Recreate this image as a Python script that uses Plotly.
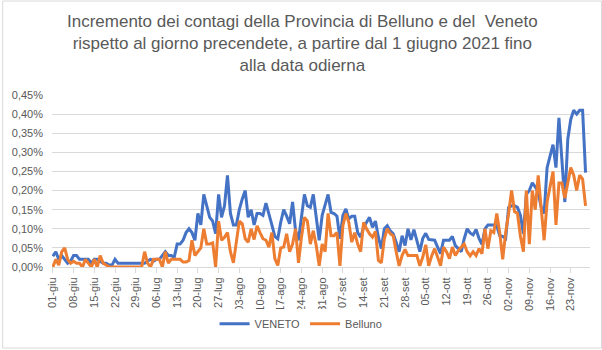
import pandas as pd
import plotly.graph_objects as go

# Daily increment of cases vs the previous day, in percent (1 Jun 2021 onward)
veneto = [
    0.028, 0.04, 0.02, 0.03, 0.02, 0.01, 0.015, 0.03, 0.03, 0.02,
    0.02, 0.02, 0.02, 0.01, 0.02, 0.02, 0.015, 0.01, 0.01, 0.005,
    0.005, 0.02, 0.01, 0.01, 0.01, 0.01, 0.01, 0.01, 0.01, 0.01,
    0.01, 0.01, 0.015, 0.02, 0.015, 0.02, 0.02, 0.03, 0.04, 0.03,
    0.03, 0.025, 0.06, 0.06, 0.07, 0.09, 0.10, 0.09, 0.07, 0.14,
    0.11, 0.19, 0.16, 0.13, 0.12, 0.087, 0.19, 0.13, 0.16, 0.24,
    0.14, 0.11, 0.11, 0.15, 0.178, 0.20, 0.13, 0.15, 0.11, 0.14,
    0.14, 0.135, 0.167, 0.135, 0.11, 0.08, 0.074, 0.117, 0.15, 0.133,
    0.113, 0.17, 0.095, 0.07, 0.126, 0.19, 0.16, 0.156, 0.19, 0.126,
    0.07, 0.135, 0.16, 0.19, 0.143, 0.14, 0.133, 0.074, 0.135, 0.152,
    0.126, 0.133, 0.133, 0.09, 0.078, 0.104, 0.117, 0.13, 0.104, 0.12,
    0.078, 0.048, 0.10, 0.108, 0.095, 0.087, 0.065, 0.04, 0.082, 0.056,
    0.10, 0.071, 0.098, 0.065, 0.04, 0.075, 0.088, 0.072, 0.071, 0.07,
    0.052, 0.035, 0.07, 0.07, 0.07, 0.08, 0.056, 0.048, 0.04, 0.074,
    0.10, 0.089, 0.084, 0.098, 0.075, 0.059, 0.10, 0.11, 0.11, 0.11,
    0.108, 0.082, 0.08, 0.075, 0.156, 0.16, 0.16, 0.156, 0.135, 0.087,
    0.19, 0.20, 0.22, 0.21, 0.195, 0.156, 0.14, 0.26, 0.29, 0.32,
    0.26, 0.39, 0.28, 0.17, 0.335, 0.386, 0.41, 0.40, 0.41, 0.41,
    0.247,
]

belluno = [
    0.0, 0.02, 0.005, 0.04, 0.05, 0.02, 0.01, 0.015, 0.01, 0.01,
    0.0, 0.02, 0.01, 0.0, 0.02, 0.0, 0.03, 0.01, 0.005, 0.0,
    0.0, 0.0, 0.0, 0.0, 0.0, 0.0, 0.0, 0.0, 0.0, 0.0,
    0.0, 0.04, 0.01, 0.0, 0.02, 0.02, 0.02, 0.0, 0.04, 0.01,
    0.02, 0.02, 0.02, 0.02, 0.013, 0.013, 0.017, 0.07, 0.03, 0.04,
    0.05, 0.10, 0.06, 0.06, 0.063, 0.0, 0.12, 0.07, 0.078, 0.09,
    0.04, 0.011, 0.06, 0.12, 0.113, 0.074, 0.065, 0.10, 0.072, 0.108,
    0.09, 0.074, 0.07, 0.052, 0.09, 0.022, 0.004, 0.05, 0.052, 0.087,
    0.04, 0.06, 0.10, 0.011, 0.078, 0.13, 0.12, 0.06, 0.095, 0.056,
    0.003, 0.06, 0.04, 0.14, 0.082, 0.082, 0.09, 0.003, 0.108, 0.14,
    0.117, 0.065, 0.09, 0.06, 0.04, 0.117, 0.10, 0.087, 0.078, 0.093,
    0.017, 0.011, 0.074, 0.10, 0.087, 0.082, 0.04, 0.003, 0.03, 0.046,
    0.03, 0.03, 0.03, 0.03, 0.003, 0.026, 0.058, 0.003, 0.029, 0.048,
    0.026, 0.003, 0.052, 0.04, 0.022, 0.052, 0.03, 0.043, 0.052, 0.06,
    0.04, 0.029, 0.04, 0.03, 0.048, 0.035, 0.10, 0.048, 0.095, 0.09,
    0.14, 0.09, 0.02, 0.09, 0.14, 0.20, 0.145, 0.14, 0.08, 0.04,
    0.20, 0.06, 0.20, 0.15, 0.24, 0.155, 0.07, 0.17, 0.21, 0.25,
    0.11, 0.22, 0.22, 0.18, 0.22, 0.26, 0.24, 0.20, 0.24, 0.23,
    0.16,
]

tick_labels = [
    "01-giu", "08-giu", "15-giu", "22-giu", "29-giu", "06-lug", "13-lug",
    "20-lug", "27-lug", "03-ago", "10-ago", "17-ago", "24-ago", "31-ago",
    "07-set", "14-set", "21-set", "28-set", "05-ott", "12-ott", "19-ott",
    "26-ott", "02-nov", "09-nov", "16-nov", "23-nov",
]

title_lines = [
    "Incremento dei contagi della Provincia di Belluno e del  Veneto",
    "rispetto al giorno precendete, a partire dal 1 giugno 2021 fino",
    "alla data odierna",
]

start = pd.Timestamp("2021-06-01")
dates = pd.date_range(start, periods=len(veneto), freq="D")
tick_dates = pd.date_range(start, periods=len(tick_labels), freq="7D")

TEXT = "#595959"
GRID = "#D9D9D9"
FONT = "Liberation Sans, Arial, sans-serif"

# pixel -> paper helpers for the 540x173 plot area (left 50, bottom 268)
def px_x(x):
    return (x - 50) / 540

def px_y(y):
    return (268 - y) / 173

fig = go.Figure()
fig.add_trace(go.Scatter(
    x=dates, y=[v / 100 for v in veneto], name="VENETO", mode="lines",
    line=dict(color="#4472C4", width=3),
))
fig.add_trace(go.Scatter(
    x=dates, y=[v / 100 for v in belluno], name="Belluno", mode="lines",
    line=dict(color="#ED7D31", width=3),
))

# outer chart frame
fig.add_shape(type="rect", xref="paper", yref="paper",
              x0=px_x(0.5), x1=px_x(601.5), y0=px_y(349.5), y1=px_y(0.5),
              line=dict(color=GRID, width=1), layer="below")

# three-line title
fig.add_annotation(
    text="<br>".join(title_lines), xref="paper", yref="paper",
    x=px_x(301), y=px_y(10), xanchor="center", yanchor="top",
    showarrow=False, align="center",
    font=dict(family=FONT, size=17, color=TEXT),
)

fig.update_layout(
    width=602, height=350,
    margin=dict(l=50, r=12, t=95, b=82),
    paper_bgcolor="white", plot_bgcolor="white",
    separators=",.",
    font=dict(family=FONT, color=TEXT, size=11),
    showlegend=True,
    legend=dict(orientation="h", x=px_x(300), xanchor="center",
                y=px_y(325), yanchor="middle",
                font=dict(size=11, color=TEXT), itemwidth=30),
    xaxis=dict(
        range=[start - pd.Timedelta(hours=7), start + pd.Timedelta(hours=int(181.5 * 24))],
        tickmode="array", tickvals=tick_dates, ticktext=tick_labels,
        tickangle=-90, tickfont=dict(size=11, color=TEXT),
        showgrid=False, showline=True, linecolor=GRID, linewidth=1,
        ticks="outside", ticklen=5, tickcolor=GRID, zeroline=False,
    ),
    yaxis=dict(
        range=[0, 0.0045], tickmode="linear", tick0=0, dtick=0.0005,
        tickformat=".2%", tickfont=dict(size=11, color=TEXT),
        showgrid=True, gridcolor=GRID, gridwidth=1,
        zeroline=False, showline=False, ticklabelstandoff=8,
    ),
)

fig.write_html("out.html")
